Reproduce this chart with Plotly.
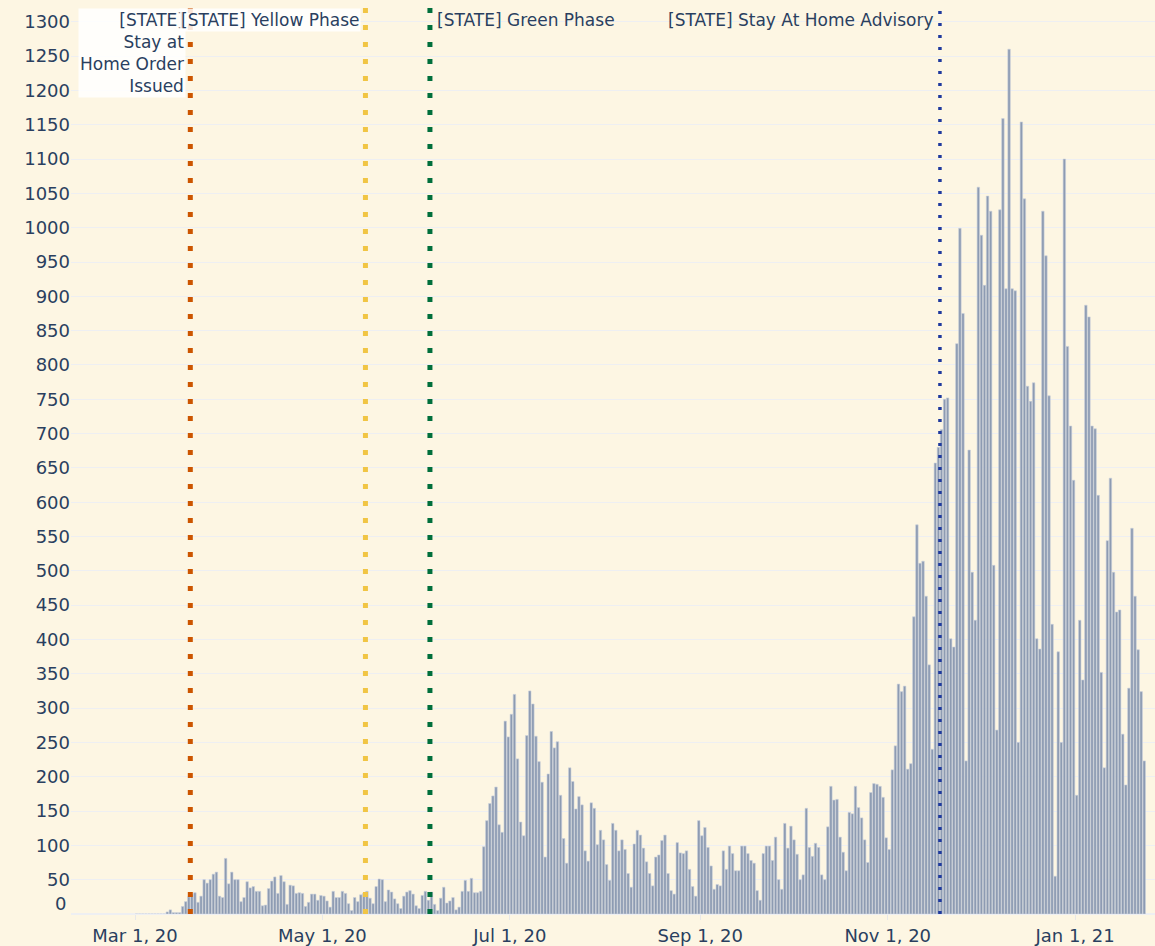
"""Daily new cases with the state's reopening phases marked."""

import pandas as pd
import plotly.graph_objects as go

FIRST_DAY = "2020-03-01"

# daily counts, split at each policy change
before_order = [0, 0, 0, 0, 0, 0, 0, 0, 0, 0, 3, 6, 2, 2, 2, 11, 18, 25]
stay_at_home = [29, 31, 17, 26, 50, 45, 50, 58, 61, 26, 24,
                81, 44, 61, 50, 50, 18, 24, 47, 38, 40, 33, 33, 12, 13, 37, 48, 54, 30, 56, 47, 14,
                42, 41, 30, 31, 30, 11, 17, 29, 29, 20, 27, 26, 19, 10, 33, 24, 24, 33, 30, 15, 5,
                24, 18, 28, 30]
yellow_phase = [33, 23, 15, 40, 51, 50, 18, 35, 32, 22, 15, 8, 26, 32, 34, 29, 12, 8, 27, 33, 20]
green_summer = [32, 14, 5, 23, 39, 16, 19, 24, 6, 10, 33, 49, 33, 52, 31, 31, 33,
                98, 136, 161, 172, 185, 130, 119, 281, 258, 291, 320, 226, 134, 114, 260, 325,
                306, 259, 222, 192, 83, 204, 266, 242, 251, 173, 110, 74, 213, 193, 153, 171,
                159, 92, 77, 162, 154, 101, 122, 108, 72, 49, 132, 122, 92, 108]
green_fall = [94, 59, 39, 102, 122, 115, 96, 76, 59, 41, 83, 86, 107, 115, 59, 34, 29, 104,
              89, 88, 92, 65, 40, 26, 136, 114, 126, 97, 70, 36, 43, 41, 92, 65, 99, 88, 63, 63,
              99, 99, 88, 78, 74, 34, 20, 88, 99, 99, 78, 112, 50, 36, 132, 96, 128, 108, 87, 50,
              57, 154, 97, 84, 103, 97, 57, 50, 127, 186,
              166, 167, 112, 90, 63, 148, 146, 186, 155, 140, 108, 75, 177, 190, 189, 186, 170,
              111, 94, 210, 245, 335, 324, 332, 211, 219, 433, 567, 511, 514, 463, 363, 240,
              657, 680]
advisory = [706, 750, 752, 401, 389, 831, 999, 875, 223, 676, 498, 428, 1059, 989, 916, 1046,
            1024, 508, 268, 1026, 1159, 911, 1260, 911, 908, 250, 1154, 1042, 769, 747, 774,
            401, 386, 1024, 959, 755, 422, 55, 382, 250, 1100, 827, 711, 632, 173, 428, 341,
            887, 870, 711, 707, 610, 352, 213, 544, 635, 498, 440, 443, 262, 188, 329, 562,
            463, 385, 324, 223]

event_dates = ["2020-03-19", "2020-05-15", "2020-06-05", "2020-11-18"]
event_labels = ["[STATE]<br>Stay at<br>Home Order<br>Issued", "[STATE] Yellow Phase",
                "[STATE] Green Phase", "[STATE] Stay At Home Advisory"]
event_colors = ["#cc5500", "#f1c544", "#006f3c", "#1f3a9e"]
event_sides = ["left", "left", "right", "left"]

y_ticks = list(range(50, 1301, 50))

TEXT = "#2a3f5f"
BG = "#fdf6e3"
GRID = "#eeeff2"

cases = before_order + stay_at_home + yellow_phase + green_summer + green_fall + advisory
days = pd.date_range(FIRST_DAY, periods=len(cases), freq="D")

fig = go.Figure()
fig.add_trace(go.Bar(
    x=days, y=cases, xperiod=86400000, xperiodalignment="middle",
    marker=dict(color="#8d9bb2", line=dict(color="#c9d0db", width=0.6)),
    hoverinfo="x+y",
))

for date, label, color, side in zip(event_dates, event_labels, event_colors, event_sides):
    thin = color == event_colors[-1]
    fig.add_shape(type="line", x0=date, x1=date, yref="paper", y0=0, y1=1,
                  line=dict(color=color, width=3.5 if thin else 5,
                            dash="3px,9px" if thin else "5px,12px"))
    fig.add_annotation(
        x=date, y=1, yref="paper", text=label, showarrow=False,
        xanchor="right" if side == "left" else "left", yanchor="top",
        align="right" if side == "left" else "left",
        xshift=-4 if side == "left" else 5, yshift=-2,
        bgcolor="rgba(255,255,255,0.85)" if date < "2020-06-01" else "rgba(0,0,0,0)",
        font=dict(size=17, color=TEXT),
    )

# zero label sits a little above the axis line
fig.add_annotation(x=0, xref="paper", y=0, text="0", showarrow=False,
                   xanchor="right", yanchor="middle", xshift=-3, yshift=11,
                   font=dict(size=18, color=TEXT))

fig.update_layout(
    width=1155, height=946, margin=dict(l=71, r=0, t=6, b=32),
    paper_bgcolor=BG, plot_bgcolor=BG, showlegend=False, bargap=0.2,
    font=dict(family="DejaVu Sans", color=TEXT),
    xaxis=dict(type="date", range=["2020-02-09 04:00", "2021-01-27"],
               tick0="2020-01-01", dtick="M2", tickformat="%b %-d, %y",
               ticks="outside", ticklen=5, tickcolor="#e8e8e8",
               showgrid=False, zeroline=False, tickfont=dict(size=18, color=TEXT)),
    yaxis=dict(range=[0, 1323], tickvals=y_ticks, gridcolor=GRID,
               zeroline=True, zerolinecolor=GRID, zerolinewidth=1.5,
               tickfont=dict(size=18, color=TEXT)),
)

# drop the page's default body margin so the figure fills the window
fig.write_html("out.html", config={"displayModeBar": False},
               post_script="document.body.style.margin='0';"
                           "document.body.style.background='" + BG + "';")
